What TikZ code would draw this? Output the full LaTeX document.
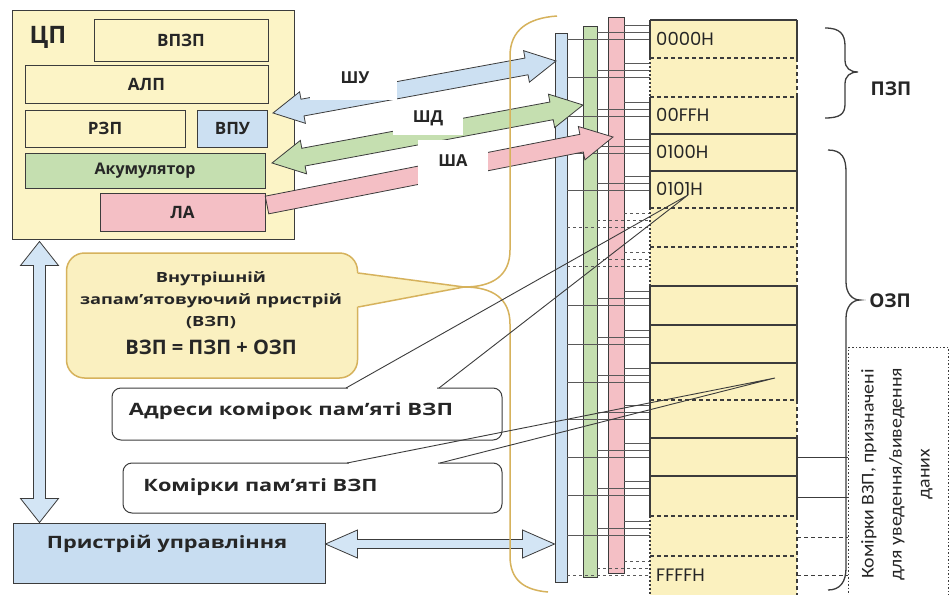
\documentclass[tikz,border=0pt]{standalone}
\usepackage{fontspec}
\usepackage{graphicx}
\setmainfont{Open Sans}
\newfontfamily\geofont{Poppins}
\newfontfamily\narrowfont{Carlito}
\usetikzlibrary{calc}
\definecolor{edge}{HTML}{3C3C3C}
\definecolor{txt}{HTML}{262626}
\definecolor{cpuY}{HTML}{FCF4C6}
\definecolor{memY}{HTML}{FBF1BF}
\definecolor{callY}{HTML}{FAF0C0}
\definecolor{gold}{HTML}{D6B25C}
\definecolor{busB}{HTML}{CCE0F2}
\definecolor{busG}{HTML}{C5DFB0}
\definecolor{busP}{HTML}{F4BFC5}
\definecolor{ctlB}{HTML}{C8DDF1}
\definecolor{arrB}{HTML}{D3E5F5}
\newcommand\hs[2]{\scalebox{#1}[1]{#2}}
% #1 from, #2 to, #3 shaft half width, #4 head half width, #5 head length, #6 style
\newcommand\dblarrow[6]{%
 \draw[#6] (#1) -- ($(#1)!#5!(#2)!#4!90:(#2)$) -- ($(#1)!#5!(#2)!#3!90:(#2)$)
  -- ($(#2)!#5!(#1)!#3!-90:(#1)$) -- ($(#2)!#5!(#1)!#4!-90:(#1)$) -- (#2)
  -- ($(#2)!#5!(#1)!#4!90:(#1)$) -- ($(#2)!#5!(#1)!#3!90:(#1)$)
  -- ($(#1)!#5!(#2)!#3!-90:(#2)$) -- ($(#1)!#5!(#2)!#4!-90:(#2)$) -- cycle;}
\newcommand\sglarrow[6]{%
 \draw[#6] ($(#1)!#3!90:(#2)$) -- ($(#2)!#5!(#1)!#3!-90:(#1)$) -- ($(#2)!#5!(#1)!#4!-90:(#1)$)
  -- (#2) -- ($(#2)!#5!(#1)!#4!90:(#1)$) -- ($(#2)!#5!(#1)!#3!90:(#1)$)
  -- ($(#1)!#3!-90:(#2)$) -- cycle;}
\begin{document}
\begin{tikzpicture}[x=1pt,y=-1pt,
  box/.style={draw=edge, line width=1pt, inner sep=0pt, text=txt,
    font=\fontsize{17}{19}\selectfont\bfseries},
  bar/.style={draw=edge, line width=0.9pt, inner sep=0pt},
  busw/.style={draw=edge!85, line width=0.7pt},
  memline/.style={draw=edge, line width=1.1pt},
  memdash/.style={draw=edge, line width=1.1pt, dash pattern=on 4pt off 3pt},
  memdot/.style={draw=edge, line width=1.1pt, dash pattern=on 2pt off 2pt},
  addr/.style={font=\geofont\fontsize{18}{20}\selectfont, text=txt, anchor=west, inner sep=0pt},
  lbl/.style={font=\fontsize{16.5}{18}\selectfont\bfseries, text=txt},
  whitebg/.style={fill=white, inner sep=0pt},
  callw/.style={draw=edge, line width=1pt, fill=white, rounded corners=9pt, inner sep=0pt},
  ctext/.style={font=\fontsize{17}{20}\selectfont\bfseries, text=txt, inner sep=0pt},
  ptr/.style={draw=edge, line width=0.9pt},
  bigarr/.style={draw=edge, line width=0.8pt},
]
\useasboundingbox (0,0) rectangle (952,594);
\fill[white] (0,0) rectangle (952,594);

% ---------------- CPU
\node[box, fill=cpuY, minimum width=282pt, minimum height=228pt] (cpu) at (153,125) {};
\node[font=\fontsize{24}{26}\selectfont\bfseries, text=txt] (cpulabel) at (48,37) {ЦП};
\node[box, fill=cpuY, minimum width=174pt, minimum height=42pt] (vpzp) at (181,40.5) {ВПЗП};
\node[box, fill=cpuY, minimum width=243pt, minimum height=38pt] (alp) at (146.5,84) {АЛП};
\node[box, fill=cpuY, minimum width=160pt, minimum height=37pt] (rzp) at (105,128.5) {РЗП};
\node[box, fill=busB, minimum width=70pt, minimum height=37pt] (vpu) at (232.5,128.5) {ВПУ};
\node[box, fill=busG, minimum width=240pt, minimum height=35pt, font=\fontsize{16}{18}\selectfont\bfseries] (akum) at (145,170.5) {Акумулятор};
\node[box, fill=busP, minimum width=165pt, minimum height=38pt] (la) at (182.5,212.5) {ЛА};

% ---------------- control unit
\node[box, fill=ctlB, minimum width=312pt, minimum height=60pt] (ctl) at (169,553) {};
\node[ctext] (ctltext) at (167,544) {\hs{1.28}{Пристрій управління}};

\coordinate (vA) at ($(cpu.south west)+(28,2)$);
\coordinate (vB) at ($(ctl.north west)+(27,0)$);
\dblarrow{vA}{vB}{6pt}{19pt}{24pt}{bigarr, fill=arrB}

% ---------------- buses
\node[bar, fill=busB, minimum width=12pt, minimum height=549pt] (busU) at (561,307.5) {};
\node[bar, fill=busG, minimum width=14pt, minimum height=551pt] (busD) at (590,301.5) {};
\node[bar, fill=busP, minimum width=16pt, minimum height=556pt] (busA) at (616,295) {};

\coordinate (hA) at ($(ctl.east)+(0,-9)$);
\coordinate (hB) at (busU.west |- hA);
\dblarrow{hA}{hB}{4.5pt}{14pt}{32pt}{bigarr, fill=arrB}

% ---------------- memory column
\node[fill=memY, inner sep=0pt, minimum width=147pt, minimum height=580pt, anchor=north west] (mem) at (650,20) {};

% lines from buses to cells
\foreach \yk/\st in {20/solid,58/solid,97/solid,134/solid,171/solid,208/dashed,247/dashed,
  286/solid,325/solid,363/solid,400/solid,438/solid,476/solid,516/solid,556/dashed}{
  \draw[busw,\st] (624,\yk+5) -- (650,\yk+5);
  \draw[busw,\st] (597,\yk+12) -- (650,\yk+12);
  \draw[busw,\st] (567,\yk+19) -- (650,\yk+19);
}

% cell boundaries
\foreach \yy in {20,134,171,286,325,363,438,476} \draw[memline] (650,\yy) -- (797,\yy);
\foreach \yy in {58,97,208,400,516,556} \draw[memdash] (650,\yy) -- (797,\yy);
\draw[memdash, line width=2pt] (650,247) -- (797,247);
% left edge
\draw[memline] (650,20) -- (650,58) (650,97) -- (650,208) (650,286) -- (650,516);
\draw[memdot] (650,58) -- (650,97) (650,208) -- (650,286) (650,516) -- (650,600);
% right edge
\draw[memline] (797,20) -- (797,58) (797,97) -- (797,208) (797,286) -- (797,400) (797,438) -- (797,516);
\draw[memdash] (797,58) -- (797,97) (797,208) -- (797,286) (797,400) -- (797,438) (797,516) -- (797,600);

\node[addr] (a0) at (656,39) {0000H};
\node[addr] (a1) at (656,115) {00FFH};
\node[addr] (a2) at (656,152) {0100H};
\node[addr] (a3) at (656,189) {0101H};
\node[addr] (a4) at (656,575) {FFFFH};

% ---------------- bus arrows
\coordinate (shuL) at (273,113); \coordinate (shuR) at (556,61);
\coordinate (shdL) at (272,163); \coordinate (shdR) at (583,105);
\coordinate (shaL) at (267,205); \coordinate (shaR) at (613,137);
\dblarrow{shuL}{shuR}{8.5pt}{16pt}{30pt}{bigarr, fill=busB}
\dblarrow{shdL}{shdR}{9pt}{17pt}{32pt}{bigarr, fill=busG}
\sglarrow{shaL}{shaR}{9pt}{17pt}{32pt}{bigarr, fill=busP}

\node[whitebg, minimum width=87pt, minimum height=45pt] (shuBg) at (353.5,77.5) {};
\node[whitebg, minimum width=70pt, minimum height=35pt] (shdBg) at (428,117.5) {};
\node[whitebg, minimum width=70pt, minimum height=46pt] (shaBg) at (453,163) {};
\node[lbl] (shu) at (355,78) {ШУ};
\node[lbl] (shd) at (428,118) {ШД};
\node[lbl] (sha) at (453,161) {ША};

% ---------------- gold brace
\coordinate (vzpTip) at (464,287);
\draw[gold, line width=1.5pt] (557,16) .. controls (528,18) and (510,30) .. (510,56)
  -- (510,250) .. controls (510,276) and (492,287) .. (vzpTip)
  .. controls (492,287) and (510,298) .. (510,324)
  -- (510,556) .. controls (510,580) and (524,590) .. (548,592);

% ---------------- ВЗП callout
\node[draw=gold, fill=callY, line width=1.5pt, rounded corners=18pt, inner sep=0pt,
  minimum width=291pt, minimum height=125pt] (vzp) at (212,315.5) {};
\fill[callY] (355,273) -- (vzpTip) -- (355,307) -- cycle;
\draw[gold, line width=1.5pt, line join=round] ($(vzp.east)+(0,-42.5)$) -- (vzpTip) -- ($(vzp.east)+(0,-8.5)$);
\node[font=\fontsize{14}{22}\selectfont\bfseries, text=txt, align=center] (vzp1) at (211,300)
  {\hs{1.3}{Внутрішній}\\\hs{1.3}{запам’ятовуючий пристрій}\\\hs{1.3}{(ВЗП)}};
\node[font=\fontsize{20}{22}\selectfont\bfseries, text=txt] (vzp2) at (211,347) {ВЗП = ПЗП + ОЗП};

% ---------------- white callouts
\node[callw, minimum width=390pt, minimum height=52pt] (adr) at (307,414) {};
\fill[white] (348,386) rectangle (437,390.5);
\node[ctext] (adrtext) at (291,411) {\hs{1.3}{Адреси комірок пам’яті ВЗП}};
\node[callw, minimum width=379pt, minimum height=50pt] (kom) at (312.5,488) {};
\fill[white] (349,461) rectangle (438,465.5);
\node[ctext] (komtext) at (260.5,487) {\hs{1.28}{Комірки пам’яті ВЗП}};

% ---------------- right side
\node[draw=edge, line width=1.2pt, dash pattern=on 1.5pt off 2pt, inner sep=0pt,
  minimum width=100pt, minimum height=260pt, anchor=north west] (io) at (848,347) {};
\draw[memline, line width=0.9pt] (797,457) -- (848,457) (797,497) -- (848,497);
\draw[memdash, line width=0.9pt] (797,537) -- (848,537) (797,575) -- (848,575);
\node[rotate=90, align=center, font=\narrowfont\fontsize{18}{28}\selectfont, text=txt] (iotext) at (897,474)
  {\hs{1.1}{Комірки ВЗП, призначені}\\\hs{1.1}{для уведення/виведення}\\\hs{1.1}{даних}};

\draw[edge, line width=1.3pt] (825,28) .. controls (840,28) and (845,34) .. (845,46) -- (845,60)
  .. controls (845,68) and (850,72) .. (858,72) .. controls (850,72) and (845,76) .. (845,84)
  -- (845,104) .. controls (845,114) and (840,118) .. (825,118);
\node[font=\fontsize{19}{21}\selectfont\bfseries, text=txt] (pzp) at (891,89) {ПЗП};
\draw[edge, line width=1.3pt] (828,150) .. controls (842,150) and (846,158) .. (846,172) -- (846,282)
  .. controls (846,293) and (852,300) .. (860,300) .. controls (852,300) and (846,307) .. (846,318)
  -- (846,568) .. controls (846,582) and (840,590) .. (828,590);
\node[font=\fontsize{19}{21}\selectfont\bfseries, text=txt] (ozp) at (890,301) {ОЗП};

% ---------------- pointer lines
\coordinate (adrTip) at (688,195);
\coordinate (komTip) at (775,378);
\draw[ptr] (346,388) -- (adrTip) -- (439,388);
\draw[ptr] (347,463) -- (komTip) -- (440,463);
\end{tikzpicture}
\end{document}
